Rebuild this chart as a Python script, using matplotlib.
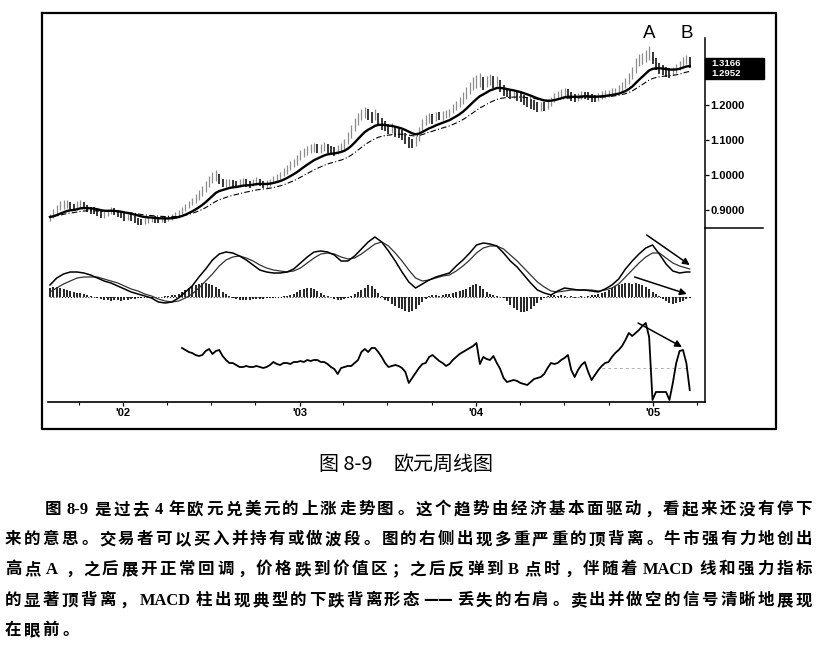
import numpy as np
import pandas as pd
import matplotlib
matplotlib.use('Agg')
import matplotlib.pyplot as plt
import matplotlib.dates as mdates
from matplotlib.lines import Line2D
from matplotlib.patches import Rectangle

W, H = 820, 645

# ---------------- data ----------------
week_dates = pd.date_range('2001-08-03', periods=190, freq='7D')

close = [0.880, 0.895, 0.905, 0.915, 0.915, 0.920, 0.912, 0.905, 0.915, 0.920, 0.910,
         0.905, 0.900, 0.898, 0.892, 0.885, 0.888, 0.895, 0.900, 0.895, 0.890,
         0.888, 0.880, 0.882, 0.878, 0.872, 0.868, 0.866, 0.870, 0.872, 0.876,
         0.872, 0.870, 0.875, 0.872, 0.878, 0.880, 0.886, 0.892,
         0.900, 0.910, 0.918, 0.925, 0.935, 0.945, 0.955,
         0.970, 0.985, 0.995, 1.000, 0.985, 0.975, 0.978,
         0.980, 0.975, 0.972, 0.978, 0.982, 0.976, 0.974, 0.980, 0.985, 0.978, 0.972, 0.975, 0.982, 0.988,
         0.995, 1.000, 1.010, 1.020, 1.030, 1.035,
         1.045, 1.060, 1.065, 1.070, 1.075, 1.080, 1.075, 1.078,
         1.082, 1.078, 1.070, 1.068, 1.075, 1.080,
         1.090, 1.110, 1.130, 1.150, 1.165,
         1.175, 1.180, 1.170, 1.165, 1.175, 1.160,
         1.145, 1.140, 1.130, 1.135, 1.125, 1.120, 1.115,
         1.105, 1.095, 1.090, 1.100,
         1.130, 1.150, 1.160, 1.165, 1.160, 1.170, 1.168,
         1.170, 1.175, 1.180, 1.195, 1.200, 1.210,
         1.225, 1.240, 1.255, 1.265, 1.270, 1.275,
         1.260, 1.270, 1.275, 1.265, 1.270,
         1.250, 1.240, 1.235, 1.230, 1.232,
         1.225, 1.222, 1.215, 1.210, 1.205, 1.200,
         1.195, 1.198, 1.195, 1.205,
         1.215, 1.225, 1.230, 1.235, 1.240,
         1.232, 1.225, 1.220, 1.225, 1.230,
         1.228, 1.225, 1.222, 1.220, 1.225, 1.230,
         1.232, 1.235, 1.238, 1.240, 1.245,
         1.255, 1.265, 1.280, 1.295, 1.320,
         1.330, 1.335, 1.345, 1.350, 1.330,
         1.315, 1.305, 1.300, 1.295, 1.292,
         1.300, 1.305, 1.315, 1.325, 1.330, 1.320]

low = [0.868, 0.876, 0.890, 0.900, 0.904, 0.906, 0.902, 0.896, 0.900, 0.908, 0.902,
       0.895, 0.890, 0.888, 0.882, 0.876, 0.878, 0.884, 0.890, 0.886, 0.880,
       0.878, 0.870, 0.872, 0.868, 0.862, 0.858, 0.856, 0.860, 0.864, 0.866,
       0.864, 0.862, 0.866, 0.864, 0.868, 0.872, 0.876, 0.882,
       0.888, 0.896, 0.906, 0.914, 0.920, 0.930, 0.940,
       0.952, 0.965, 0.978, 0.984, 0.975, 0.965, 0.966,
       0.968, 0.964, 0.962, 0.966, 0.970, 0.966, 0.962, 0.968, 0.972, 0.968, 0.962, 0.964, 0.970, 0.976,
       0.982, 0.988, 0.996, 1.004, 1.015, 1.022,
       1.030, 1.042, 1.052, 1.056, 1.062, 1.066, 1.062, 1.064,
       1.068, 1.064, 1.058, 1.054, 1.060, 1.066,
       1.074, 1.088, 1.106, 1.126, 1.144,
       1.156, 1.162, 1.156, 1.148, 1.158, 1.144,
       1.130, 1.126, 1.116, 1.120, 1.110, 1.106, 1.100,
       1.090, 1.078, 1.076, 1.084,
       1.096, 1.126, 1.144, 1.150, 1.146, 1.154, 1.156,
       1.158, 1.162, 1.166, 1.176, 1.186, 1.194,
       1.204, 1.218, 1.232, 1.244, 1.250, 1.252,
       1.244, 1.252, 1.258, 1.250, 1.254,
       1.236, 1.226, 1.222, 1.218, 1.220,
       1.212, 1.208, 1.200, 1.194, 1.190, 1.186,
       1.180, 1.184, 1.182, 1.190,
       1.198, 1.208, 1.216, 1.222, 1.226,
       1.220, 1.212, 1.208, 1.212, 1.218,
       1.216, 1.214, 1.210, 1.208, 1.212, 1.218,
       1.220, 1.224, 1.226, 1.228, 1.232,
       1.238, 1.248, 1.260, 1.274, 1.292,
       1.312, 1.318, 1.324, 1.330, 1.316,
       1.300, 1.290, 1.286, 1.280, 1.278,
       1.286, 1.292, 1.300, 1.308, 1.316, 1.306]

high = [0.890, 0.902, 0.915, 0.925, 0.928, 0.930, 0.924, 0.916, 0.925, 0.930, 0.924,
        0.915, 0.910, 0.908, 0.902, 0.896, 0.898, 0.904, 0.908, 0.905, 0.900,
        0.898, 0.892, 0.890, 0.888, 0.882, 0.878, 0.875, 0.878, 0.880, 0.884,
        0.882, 0.878, 0.883, 0.880, 0.886, 0.888, 0.894, 0.900,
        0.908, 0.918, 0.926, 0.934, 0.945, 0.956, 0.968,
        0.982, 0.996, 1.008, 1.015, 1.002, 0.990, 0.988,
        0.990, 0.986, 0.982, 0.988, 0.992, 0.988, 0.984, 0.990, 0.994, 0.990, 0.984, 0.985, 0.990, 0.996,
        1.004, 1.010, 1.020, 1.030, 1.040, 1.046,
        1.058, 1.072, 1.078, 1.082, 1.088, 1.092, 1.088, 1.090,
        1.094, 1.090, 1.084, 1.080, 1.086, 1.092,
        1.102, 1.122, 1.142, 1.162, 1.178,
        1.190, 1.194, 1.188, 1.180, 1.190, 1.178,
        1.162, 1.154, 1.146, 1.148, 1.140, 1.134, 1.128,
        1.120, 1.110, 1.104, 1.112,
        1.138, 1.160, 1.172, 1.176, 1.174, 1.180, 1.180,
        1.182, 1.186, 1.190, 1.204, 1.212, 1.222,
        1.236, 1.252, 1.266, 1.280, 1.286, 1.292,
        1.280, 1.284, 1.290, 1.282, 1.284,
        1.272, 1.256, 1.250, 1.244, 1.244,
        1.238, 1.234, 1.228, 1.224, 1.218, 1.214,
        1.208, 1.210, 1.208, 1.214,
        1.224, 1.234, 1.240, 1.246, 1.250,
        1.246, 1.238, 1.232, 1.234, 1.240,
        1.238, 1.236, 1.232, 1.230, 1.234, 1.240,
        1.242, 1.244, 1.248, 1.250, 1.256,
        1.266, 1.276, 1.292, 1.308, 1.334,
        1.346, 1.350, 1.358, 1.368, 1.352,
        1.334, 1.320, 1.314, 1.308, 1.306,
        1.310, 1.316, 1.326, 1.336, 1.342, 1.336]

# MACD lines sampled every second week (plus the last week)
macd_idx = list(range(0, 190, 2)) + [189]
macd_line = [12, 19, 23, 25, 25, 24, 22, 19, 16, 14,
             11, 8, 5, 3, 1, -1, -5, -6, -5, -1,
             5, 11, 20, 28, 37, 43, 45, 44, 41, 37,
             32, 27, 25, 24, 24, 25, 28, 34, 40, 45,
             46, 45, 42, 36, 36, 41, 48, 55, 60, 55,
             46, 36, 25, 15, 9, 13, 17, 20, 22, 24,
             31, 37, 44, 52, 54, 53, 51, 44, 36, 30,
             22, 14, 7, 4, 2, 6, 9, 8, 7, 7,
             6, 5, 8, 12, 18, 28, 36, 43, 49, 52,
             43, 33, 26, 24, 25, 25]
signal_line = [5, 9, 13, 16, 19, 20, 20, 20, 18, 16,
               14, 11, 8, 6, 3, 1, -2, -4, -5, -4,
               -1, 3, 9, 16, 23, 31, 37, 40, 41, 39,
               36, 32, 29, 27, 26, 25, 26, 29, 34, 39,
               43, 44, 43, 40, 38, 39, 43, 48, 53, 55,
               51, 44, 36, 27, 19, 16, 17, 19, 21, 22,
               26, 31, 37, 44, 49, 51, 51, 48, 42, 36,
               29, 22, 15, 10, 6, 5, 6, 7, 7, 7,
               7, 6, 7, 9, 13, 20, 27, 34, 40, 44,
               44, 39, 34, 31, 29, 28]

macd_hist = [9, 10, 10, 9, 8, 7, 6, 5, 4, 4,
             3, 2, 1, 0, -1, -2, -3, -3, -4, -3,
             -3, -4, -3, -3, -2, -2, -1, -1, 0, 0,
             -1, 0, 0, 0, 1, 1, 2, 2, 3, 5,
             7, 9, 11, 12, 13, 14, 14, 13, 12, 10,
             8, 5, 3, 1, -1, -2, -3, -3, -3, -3,
             -2, -2, -2, -2, -1, -1, -1, 0, 0, 1,
             1, 2, 3, 5, 7, 8, 9, 9, 8, 6,
             4, 2, 1, 0, -2, -3, -3, -2, -1, 1,
             3, 5, 7, 9, 12, 11, 8, 4, 1, -3,
             -4, -7, -9, -11, -12, -14, -15, -14, -12, -8,
             -5, -2, 1, 2, 2, 1, 2, 3, 3, 4,
             5, 6, 7, 8, 10, 12, 13, 11, 8, 5,
             3, 2, 1, 0, -1, -4, -8, -11, -13, -15,
             -15, -14, -12, -9, -6, -3, -1, 1, 2, 2,
             1, 2, 1, 0, 1, -1, 0, 1, 0, 1,
             2, 2, 3, 4, 5, 7, 9, 11, 12, 13,
             14, 14, 13, 14, 13, 12, 10, 8, 5, 3,
             1, -2, -4, -6, -7, -6, -5, -4, -2, -1]

force_start = 39
force_index = [20, 18, 16, 15, 13, 12, 13, 17, 19, 14, 17, 18,
               12, 8, 5, 5, 3, 1, 1, 2, 1, 1, 2, 1, 0, 1,
               3, 6, 4, 3, 5, 5, 4, 6, 6, 7, 6, 8, 7, 8, 8, 6,
               6, 4, 1, -1, -6, 0, 1, 2, 2, 5, 8,
               16, 19, 16, 20, 20, 16, 11, 5, 1, 2, 3, 2, 0,
               -4, -15, -10, -5, 0, 4, 5, 11, 13, 10, 7, 5, 2, 4,
               8, 11, 14, 16, 18, 20, 22, 25, 4, 11, 9, 8, 12, 5,
               -1, -10, -14, -13, -12, -13, -15, -16, -17, -14, -11, -10, -9, -6,
               0, 5, 4, 5, 8, 10, 13, -2, -9, -2, 3, 6, -4, -12,
               -7, -2, 2, 5, 6, 11, 15, 18, 22, 28, 35, 32, 35, 38, 42, 45,
               31, -32, -24, -24, -24, -24, -32, -15, 5, 17, 18, 5, -22]

price_ticks = [0.9, 1.0, 1.1, 1.2]
price_tick_labels = ['0.9000', '1.0000', '1.1000', '1.2000']
last_value_labels = ['1.3166', '1.2952']
peak_labels = ['A', 'B']
peak_weeks = [177, 188]

caption_parts = ['图 8-9', '欧元周线图']
body_lines = [
    '图 8-9 是过去 4 年欧元兑美元的上涨走势图。这个趋势由经济基本面驱动，看起来还没有停下',
    '来的意思。交易者可以买入并持有或做波段。图的右侧出现多重严重的顶背离。牛市强有力地创出',
    '高点 A，之后展开正常回调，价格跌到价值区；之后反弹到 B 点时，伴随着 MACD 线和强力指标',
    '的显著顶背离，MACD 柱出现典型的下跌背离形态——丢失的右肩。卖出并做空的信号清晰地展现',
    '在眼前。',
]

# ---------------- helpers ----------------
def fx(x):
    return x / W

def fy(y):
    return 1 - y / H

fig = plt.figure(figsize=(W / 100, H / 100), dpi=100)
fig.patch.set_facecolor('white')

xd = mdates.date2num(week_dates)
x02 = mdates.date2num(pd.Timestamp('2002-01-01'))
x05 = mdates.date2num(pd.Timestamp('2005-01-01'))
ppd = (653 - 123) / (x05 - x02)
xlim = (x02 - (123 - 48) / ppd, x02 + (705 - 123) / ppd)

def make_ax(top, bottom):
    ax = fig.add_axes([fx(48), fy(bottom), (705 - 48) / W, (bottom - top) / H])
    ax.set_facecolor('none')
    for s in ax.spines.values():
        s.set_visible(False)
    ax.set_xlim(*xlim)
    ax.set_xticks([])
    ax.set_yticks([])
    return ax

# ---------------- price panel ----------------
ax_p = make_ax(13, 228)
ax_p.set_ylim(1.2 - (228 - 105) / 350, 1.2 + (105 - 13) / 350)
c = np.array(close)
lo = np.array(low)
hi = np.array(high)
up = np.r_[True, c[1:] >= c[:-1]]
ax_p.vlines(xd[up], lo[up], hi[up], color='#8c8c8c', lw=0.9)
ax_p.vlines(xd[~up], lo[~up], hi[~up], color='black', lw=1.1)
ema_fast = pd.Series(c).ewm(span=13, adjust=False).mean()
ema_slow = pd.Series(c).ewm(span=26, adjust=False).mean()
ax_p.plot(xd, ema_slow, color='black', lw=0.8, ls=(0, (5, 2, 1, 2)))
ax_p.plot(xd, ema_fast, color='black', lw=1.7)
ax_p.yaxis.tick_right()
ax_p.set_yticks(price_ticks)
ax_p.set_yticklabels(price_tick_labels)
ax_p.tick_params(axis='y', direction='out', length=3, width=0.9, pad=1, labelsize=8)
for lbl in ax_p.get_yticklabels():
    lbl.set_fontfamily('Liberation Sans')
    lbl.set_fontweight('bold')
for wk, lab in zip(peak_weeks, peak_labels):
    ax_p.text(xd[wk], 1.2 + (105 - 33) / 350, lab, ha='center', va='center',
              fontsize=13.5, family='Liberation Sans')

# ---------------- MACD panel ----------------
ax_m = make_ax(228, 312)
ax_m.set_ylim(297 - 312, 297 - 228)
ax_m.plot([xd[0], xd[-1]], [0, 0], color='black', lw=0.7, ls=(0, (1, 2)))
ax_m.vlines(xd, 0, macd_hist, color='black', lw=1.2)
ax_m.plot(xd[macd_idx], signal_line, color='#333333', lw=0.9)
ax_m.plot(xd[macd_idx], macd_line, color='black', lw=1.1)
arrow = dict(arrowstyle='-|>', color='black', lw=1.1, mutation_scale=10, shrinkA=0, shrinkB=0)
ax_m.annotate('', xy=(mdates.date2num(pd.Timestamp('2005-03-18')), 32),
              xytext=(mdates.date2num(pd.Timestamp('2004-12-19')), 62), arrowprops=arrow)
ax_m.annotate('', xy=(mdates.date2num(pd.Timestamp('2005-03-12')), 3),
              xytext=(mdates.date2num(pd.Timestamp('2004-11-24')), 20), arrowprops=arrow)

# ---------------- Force index panel ----------------
ax_f = make_ax(312, 402)
ax_f.set_ylim(368 - 402, 368 - 312)
ax_f.plot([xd[163], xd[-1]], [0, 0], color='#b0b0b0', lw=0.7, ls=(0, (3, 3)))
ax_f.plot(xd[force_start:], force_index, color='black', lw=1.3)
ax_f.annotate('', xy=(mdates.date2num(pd.Timestamp('2005-03-02')), 21),
              xytext=(mdates.date2num(pd.Timestamp('2004-12-01')), 45), arrowprops=arrow)
ax_f.spines['bottom'].set_visible(True)
ax_f.spines['bottom'].set_linewidth(1.2)
ax_f.xaxis.set_major_locator(mdates.YearLocator())
ax_f.xaxis.set_major_formatter(mdates.DateFormatter("'%y"))
ax_f.xaxis.set_minor_locator(mdates.MonthLocator(bymonth=[1, 4, 7, 10]))
ax_f.tick_params(axis='x', which='major', direction='out', length=3, width=0.9, pad=1.5, labelsize=8)
ax_f.tick_params(axis='x', which='minor', direction='out', length=2, width=0.8)
for lbl in ax_f.get_xticklabels():
    lbl.set_fontfamily('Liberation Sans')
    lbl.set_fontweight('bold')

# ---------------- frame ----------------
fig.add_artist(Line2D([fx(42), fx(776), fx(776), fx(42), fx(42)],
                      [fy(13), fy(13), fy(429), fy(429), fy(13)],
                      transform=fig.transFigure, color='black', lw=1.6))
fig.add_artist(Line2D([fx(705), fx(705)], [fy(38), fy(402)],
                      transform=fig.transFigure, color='black', lw=1.1))
fig.add_artist(Line2D([fx(705), fx(763)], [fy(228), fy(228)],
                      transform=fig.transFigure, color='black', lw=1.1))
fig.add_artist(Rectangle((fx(705), fy(79)), (764 - 705) / W, (79 - 58) / H,
                         transform=fig.transFigure, color='black'))
for k, lab in enumerate(last_value_labels):
    fig.text(fx(711), fy(63 + 10 * k), lab, color='white', fontsize=6.8,
             family='Liberation Sans', fontweight='bold', va='center', ha='left')

# ---------------- caption & body text ----------------
CAP = 20
fig.text(fx(319), fy(462 + 0.38 * CAP), caption_parts[0], fontsize=CAP * 0.72,
         family=['Noto Sans CJK SC', 'DejaVu Sans'], ha='left', va='baseline')
fig.text(fx(394), fy(462 + 0.38 * CAP), caption_parts[1], fontsize=CAP * 0.72,
         family=['Noto Sans CJK SC', 'DejaVu Sans'], ha='left', va='baseline')

renderer = fig.canvas.get_renderer()
EM = 16.5
PUNCT = set('，。；、：')

def tokenize(s):
    toks, buf = [], ''
    for ch in s:
        if ch == ' ':
            if buf:
                toks.append(buf)
                buf = ''
            continue
        if ord(ch) < 128:
            buf += ch
        else:
            if buf:
                toks.append(buf)
                buf = ''
            if ch == '—' and toks and toks[-1] == '—':
                toks[-1] = '——'
            else:
                toks.append(ch)
    if buf:
        toks.append(buf)
    return toks

def draw_line(s, x0, x1, yc, justify=True):
    toks = tokenize(s)
    base = fy(yc + 0.38 * EM)
    items = []
    cjk = ['Noto Sans CJK SC', 'DejaVu Sans']
    for t in toks:
        if ord(t[0]) < 128:
            txt = fig.text(0, base, t, fontsize=EM * 0.72, family='Liberation Serif',
                           fontweight='bold', ha='center', va='baseline')
            w = txt.get_window_extent(renderer).width + 0.35 * EM
            kind = 'c'
        elif t in PUNCT:
            txt = fig.text(0, base, t, fontsize=EM * 0.72, family=cjk,
                           fontweight='bold', ha='left', va='baseline')
            w = EM
            kind = 'l'
        elif t == '——':
            txt = fig.text(0, base, t, fontsize=EM * 0.72, family=cjk,
                           fontweight='bold', ha='center', va='baseline')
            w = 2 * EM
            kind = 'c'
        else:
            txt = fig.text(0, base, t, fontsize=EM * 0.72, family=cjk,
                           fontweight='bold', ha='center', va='baseline')
            w = EM
            kind = 'c'
        items.append((txt, w, kind))
    total = sum(w for _, w, _ in items)
    gap = (x1 - x0 - total) / (len(items) - 1) if justify and len(items) > 1 else 2.2
    x = x0
    for txt, w, kind in items:
        if kind == 'c':
            txt.set_x(fx(x + w / 2))
        else:
            txt.set_x(fx(x + 0.08 * EM))
        x += w + gap

line_y = [508, 538, 568, 599, 629]
for k, s in enumerate(body_lines):
    x0 = 45 if k == 0 else 5
    draw_line(s, x0, 812, line_y[k], justify=(k < len(body_lines) - 1))

fig.savefig('out.png', dpi=100)
